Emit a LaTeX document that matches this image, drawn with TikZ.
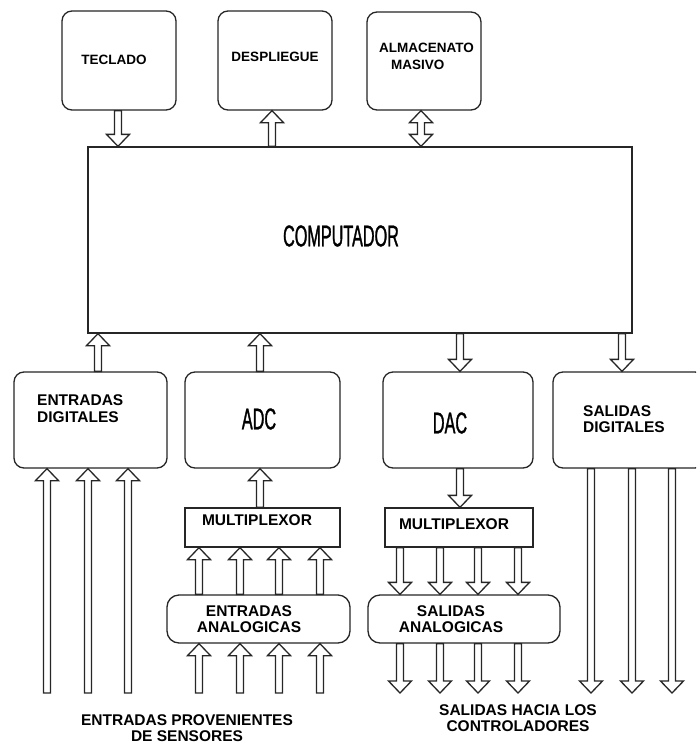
\documentclass[tikz,border=0pt]{standalone}
\usepackage{fontspec}
\setmainfont{Liberation Sans}
\newfontfamily\condfont{Liberation Sans}[FakeStretch=0.54,FakeBold=1]
\usetikzlibrary{calc}
\tikzset{
  ln/.style={draw=black!85, line width=1.3pt},
  rbox/.style={ln, rounded corners=10pt, inner sep=0pt},
  sbox/.style={ln, inner sep=0pt},
  lbl/.style={font=\bfseries\fontsize{15.5}{16.5}\selectfont, inner sep=0pt},
  toplbl/.style={font=\bfseries\fontsize{13.5}{17}\selectfont, inner sep=0pt},
  biglbl/.style={font=\condfont\fontsize{30}{30}\selectfont, inner sep=0pt},
  harrow/.style={ln, to path={
    let \p1=(\tikztostart), \p2=(\tikztotarget), \n1={12pt*sign(\y2-\y1)} in
    ({\x1-3.5pt},\y1) -- ({\x1-3.5pt},{\y2-\n1}) -- ({\x1-11.5pt},{\y2-\n1})
    -- (\x1,\y2) -- ({\x1+11.5pt},{\y2-\n1}) -- ({\x1+3.5pt},{\y2-\n1})
    -- ({\x1+3.5pt},\y1) -- cycle}},
  darrow/.style={ln, to path={
    let \p1=(\tikztostart), \p2=(\tikztotarget), \n1={12pt*sign(\y2-\y1)} in
    ({\x1-3.5pt},{\y1+\n1}) -- ({\x1-3.5pt},{\y2-\n1}) -- ({\x1-11.5pt},{\y2-\n1})
    -- (\x1,\y2) -- ({\x1+11.5pt},{\y2-\n1}) -- ({\x1+3.5pt},{\y2-\n1})
    -- ({\x1+3.5pt},{\y1+\n1}) -- ({\x1+11.5pt},{\y1+\n1}) -- (\x1,\y1)
    -- ({\x1-11.5pt},{\y1+\n1}) -- cycle}},
}
\begin{document}
\begin{tikzpicture}[x=1pt,y=-1pt]
\useasboundingbox (0,0) rectangle (696,744);
\clip (0,0) rectangle (696,744);
\fill[white] (0,0) rectangle (696,744);

% boxes
\node[rbox, minimum width=114, minimum height=99] (tec) at (119,60.5) {};
\node[rbox, minimum width=114, minimum height=99] (des) at (275,60.5) {};
\node[rbox, minimum width=114, minimum height=98] (alm) at (424,61) {};
\node[sbox, minimum width=544, minimum height=186] (comp) at (360,240) {};
\node[rbox, minimum width=153, minimum height=96] (ed) at (90.5,420) {};
\node[rbox, minimum width=155, minimum height=96] (adc) at (262.5,420) {};
\node[rbox, minimum width=150, minimum height=96] (dac) at (458,420) {};
\node[rbox, minimum width=152, minimum height=96] (sd) at (629,420) {};
\node[sbox, minimum width=155, minimum height=39] (mux1) at (262.5,527.5) {};
\node[sbox, minimum width=148, minimum height=39] (mux2) at (459,527.5) {};
\node[rbox, rounded corners=12pt, minimum width=183, minimum height=48] (ea) at (258.5,619) {};
\node[rbox, rounded corners=12pt, minimum width=192, minimum height=48] (sa) at (464,619) {};

% labels
\node[toplbl] (ttec) at (114,60) {TECLADO};
\node[toplbl] (tdes) at (275,57) {DESPLIEGUE};
\node[toplbl, anchor=west, align=left] (talm) at (379,56.5) {ALMACENATO\\\hspace{12pt}MASIVO};
\node[biglbl] (tcomp) at (341,236) {COMPUTADOR};
\node[lbl, anchor=west, align=left] (ted) at (37,408.5) {ENTRADAS\\DIGITALES};
\node[biglbl] (tadc) at (259,419) {ADC};
\node[biglbl] (tdac) at (450,423) {DAC};
\node[lbl, anchor=west, align=left] (tsd) at (583,419) {SALIDAS\\DIGITALES};
\node[lbl] (tmux1) at (257,520) {MULTIPLEXOR};
\node[lbl] (tmux2) at (454,524) {MULTIPLEXOR};
\node[lbl, align=center] (tea) at (249,619) {ENTRADAS\\ANALOGICAS};
\node[lbl, align=center] (tsa) at (451,619) {SALIDAS\\ANALOGICAS};
\node[lbl, align=center] (tin) at (187,728) {ENTRADAS PROVENIENTES\\DE SENSORES};
\node[lbl, align=center] (tout) at (518,718) {SALIDAS HACIA LOS\\CONTROLADORES};

% arrow x positions
\coordinate (xtec) at (118,0);
\coordinate (xdes) at (272,0);
\coordinate (xalm) at (421,0);
\coordinate (xed) at (98,0);
\coordinate (xadc) at (260,0);
\coordinate (xdac) at (460,0);
\coordinate (xsd) at (622,0);

% top connections
\draw[harrow] (tec.south -| xtec) to (comp.north -| xtec);
\draw[harrow] (comp.north -| xdes) to (des.south -| xdes);
\draw[darrow] (comp.north -| xalm) to (alm.south -| xalm);

% computer to lower row
\draw[harrow] (ed.north -| xed) to (comp.south -| xed);
\draw[harrow] (adc.north -| xadc) to (comp.south -| xadc);
\draw[harrow] (comp.south -| xdac) to (dac.north -| xdac);
\draw[harrow] (comp.south -| xsd) to (sd.north -| xsd);

% converters and multiplexers
\draw[harrow] (mux1.north -| xadc) to (adc.south -| xadc);
\draw[harrow] (dac.south -| xdac) to (mux2.north -| xdac);

% analog inputs
\foreach \x [count=\i] in {199,240,279,320} {
  \coordinate (ai\i) at (\x,693);
  \draw[harrow] (ai\i) to (ai\i |- ea.south);
  \draw[harrow] (ai\i |- ea.north) to (ai\i |- mux1.south);
}
% analog outputs
\foreach \x [count=\i] in {400,440,478,518} {
  \coordinate (ao\i) at (\x,693);
  \draw[harrow] (ao\i |- mux2.south) to (ao\i |- sa.north);
  \draw[harrow] (ao\i |- sa.south) to (ao\i);
}
% digital inputs
\foreach \x [count=\i] in {47,88,128} {
  \coordinate (di\i) at (\x,693);
  \draw[harrow] (di\i) to (di\i |- ed.south);
}
% digital outputs
\foreach \x [count=\i] in {591,632,672} {
  \coordinate (do\i) at (\x,693);
  \draw[harrow] (do\i |- sd.south) to (do\i);
}
\end{tikzpicture}
\end{document}
